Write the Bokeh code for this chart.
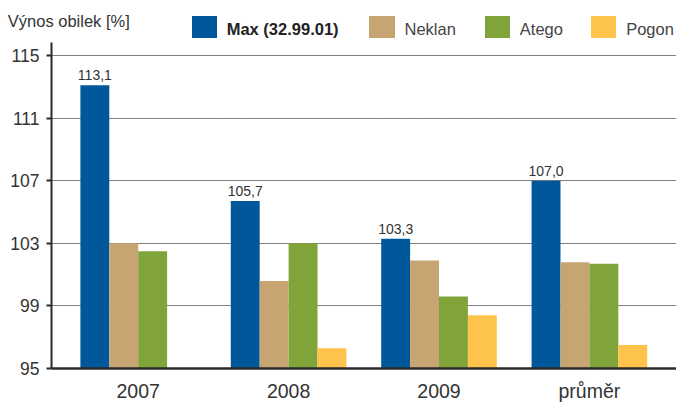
from bokeh.plotting import figure
from bokeh.layouts import column
from bokeh.models import ColumnDataSource, FixedTicker, Range1d, Div
from bokeh.core.properties import value
from bokeh.embed import file_html
from bokeh.resources import INLINE

# ---- data ----
categories = ["2007", "2008", "2009", "průměr"]
series_names = ["Max (32.99.01)", "Neklan", "Atego", "Pogon"]
max_vals = [113.1, 105.7, 103.3, 107.0]
neklan_vals = [103.0, 100.6, 101.9, 101.8]
atego_vals = [102.5, 103.0, 99.6, 101.7]
pogon_vals = [float("nan"), 96.3, 98.4, 96.5]
y_ticks = [95, 99, 103, 107, 111, 115]
title_text = "Výnos obilek [%]"

colors = ["#00589B", "#C6A572", "#80A33A", "#FEC34B"]
FONT = "Liberation Sans"
W = 676
HEAD_H = 40
MAIN_H = 404 - HEAD_H

# ---------- header: title + legend (HTML) ----------
sq_left = [191.5, 369.3, 484.6, 591.0]
sq_w, sq_top, sq_h = 25.4, 16.4, 22.1
parts = [
    f'<div style="position:relative;width:{W}px;height:{HEAD_H}px;'
    f'font-family:\'{FONT}\';font-size:16.5px;line-height:1;overflow:visible;">',
    f'<span style="position:absolute;left:7.8px;top:13.4px;color:#333333;'
    f'white-space:nowrap;">{title_text}</span>',
]
for k, name in enumerate(series_names):
    parts.append(
        f'<span style="position:absolute;left:{sq_left[k]}px;top:{sq_top}px;'
        f'width:{sq_w}px;height:{sq_h}px;background:{colors[k]};"></span>')
    weight = "bold" if k == 0 else "normal"
    col = "#222222" if k == 0 else "#444444"
    parts.append(
        f'<span style="position:absolute;left:{sq_left[k] + sq_w + 9.8}px;top:21.3px;'
        f'color:{col};font-weight:{weight};white-space:nowrap;">{name}</span>')
parts.append("</div>")
head = Div(text="".join(parts), width=W, height=HEAD_H,
           styles={"margin": "0", "padding": "0"})

# ---------- main chart ----------
x0 = -0.5765
p = figure(width=W, height=MAIN_H, output_backend="svg", toolbar_location=None,
           x_range=Range1d(x0, x0 + 625 / 150.4),
           y_range=Range1d(95, 115.84),
           min_border_left=51, min_border_right=0, min_border_top=2,
           min_border_bottom=33)
p.outline_line_color = None
p.background_fill_color = "white"
p.border_fill_color = "white"

bar_w = 0.1922
all_series = [max_vals, neklan_vals, atego_vals, pogon_vals]
for k, vals in enumerate(all_series):
    off = (k - 1.5) * bar_w
    xs = [i + off for i in range(len(categories))]
    src = ColumnDataSource(dict(x=xs, top=vals))
    p.vbar(x="x", top="top", bottom=95, width=bar_w, source=src,
           fill_color=colors[k], line_color=None)

lab_src = ColumnDataSource(dict(
    x=[i - 1.5 * bar_w for i in range(len(categories))],
    y=max_vals,
    t=[f"{v:.1f}".replace(".", ",") for v in max_vals]))
p.text(x="x", y="y", text="t", source=lab_src, text_align="center",
       text_baseline="alphabetic", y_offset=-10, text_font=value(FONT),
       text_font_size="14px", text_color="#333333")

p.xaxis.ticker = FixedTicker(ticks=list(range(len(categories))))
p.xaxis.major_label_overrides = {i: c for i, c in enumerate(categories)}
p.xaxis.major_tick_out = 0
p.xaxis.major_tick_in = 0
p.xaxis.minor_tick_out = 0
p.xaxis.minor_tick_in = 0
p.xaxis.axis_line_width = 2.5
p.xaxis.axis_line_color = "#2a2a2a"
p.xaxis.major_label_text_font = FONT
p.xaxis.major_label_text_font_size = "19.5px"
p.xaxis.major_label_text_color = "#333333"
p.xaxis.major_label_standoff = 11

p.yaxis.ticker = FixedTicker(ticks=y_ticks)
p.yaxis.major_tick_out = 5
p.yaxis.major_tick_in = 0
p.yaxis.minor_tick_out = 0
p.yaxis.minor_tick_in = 0
p.yaxis.major_tick_line_width = 2
p.yaxis.major_tick_line_color = "#2a2a2a"
p.yaxis.axis_line_width = 2
p.yaxis.axis_line_color = "#2a2a2a"
p.yaxis.major_label_text_font = FONT
p.yaxis.major_label_text_font_size = "17.5px"
p.yaxis.major_label_text_color = "#333333"
p.yaxis.major_label_standoff = 7

p.xgrid.grid_line_color = None
p.ygrid.grid_line_color = "#000000"
p.ygrid.grid_line_dash = "1 1"
p.ygrid.grid_line_width = 1

layout = column(head, p, spacing=0)
open("out.html", "w").write(file_html(layout, INLINE))
